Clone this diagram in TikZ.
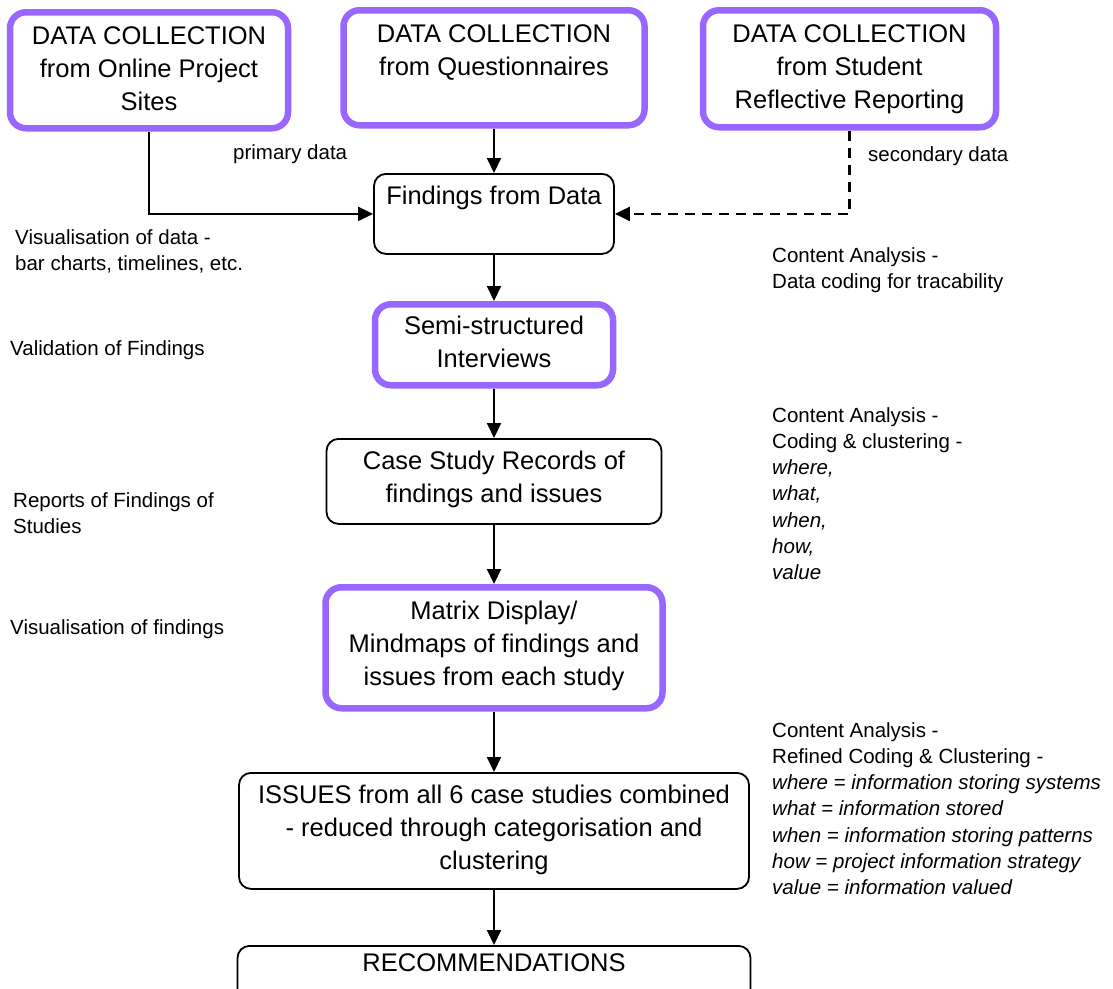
\documentclass[tikz,border=0pt]{standalone}
\usepackage{fontspec}
\setmainfont{Liberation Sans}
\usetikzlibrary{arrows.meta}
\definecolor{boxpurple}{RGB}{153,102,255}
\newcommand{\boxtext}[4]{\parbox[c][#2pt][t]{#1pt}{\centering\vspace*{#3pt}#4\par}}
\begin{document}
\begin{tikzpicture}[x=1pt,y=-1pt,
  box/.style={draw=black,line width=1.8pt,rounded corners=12pt,inner sep=0pt,fill=white,
    font=\fontsize{25.5}{33}\selectfont,anchor=north},
  pbox/.style={box,draw=boxpurple,line width=6.5pt,rounded corners=16pt},
  lbl/.style={inner sep=0pt,anchor=base west,align=left,font=\fontsize{20.5}{26.3}\selectfont},
  arr/.style={line width=2pt,-{Triangle[length=15pt,width=14pt]}}]
\clip (0,0) rectangle (1113,988);
\node[pbox] (B1) at (149,9) {\boxtext{278}{116}{14.5}{DATA COLLECTION\\from Online Project\\Sites}};
\node[pbox] (B2) at (494,7) {\boxtext{301}{115}{14.5}{DATA COLLECTION\\from Questionnaires}};
\node[pbox] (B3) at (849.5,7) {\boxtext{293}{117}{14.5}{DATA COLLECTION\\from Student\\Reflective Reporting}};
\node[box] (F) at (494,173) {\boxtext{240}{80}{12.5}{Findings from Data}};
\node[pbox] (S) at (494,301) {\boxtext{238}{81}{11.5}{Semi-structured\\Interviews}};
\node[box] (C) at (494,438) {\boxtext{335}{85}{12.5}{Case Study Records of\\findings and issues}};
\node[pbox] (M) at (494,584) {\boxtext{337}{121}{13.5}{Matrix Display/\\Mindmaps of findings and\\issues from each study}};
\node[box] (I) at (494,772) {\boxtext{510}{116}{12.5}{ISSUES from all 6 case studies combined\\- reduced through categorisation and\\clustering}};
\node[box] (R) at (494,945) {\boxtext{513}{90}{7.5}{RECOMMENDATIONS}};

\draw[arr] (B2) -- (F);
\draw[arr] (B1.south) |- (F.west);
\draw[arr,line width=2.2pt,dash pattern=on 10pt off 7pt] (B3.south) |- (F.east);
\draw[arr] (F) -- (S);
\draw[arr] (S) -- (C);
\draw[arr] (C) -- (M);
\draw[arr] (M) -- (I);
\draw[arr] (I) -- (R);

\node[lbl] (lp) at (233,159) {primary data};
\node[lbl] (ls) at (868,161) {secondary data};
\node[lbl] (lv) at (15,270.3) {Visualisation of data -\\bar charts, timelines, etc.};
\node[lbl] (lc1) at (772,288.3) {Content Analysis -\\Data coding for tracability};
\node[lbl] (lval) at (10,355) {Validation of Findings};
\node[lbl] (lc2) at (772,579.8) {Content Analysis -\\Coding \& clustering -\\\textit{where,}\\\textit{what,}\\\textit{when,}\\\textit{how,}\\\textit{value}};
\node[lbl] (lr) at (13,533.3) {Reports of Findings of\\Studies};
\node[lbl] (lvf) at (10,634) {Visualisation of findings};
\node[lbl] (lc3) at (772,894.8) {Content Analysis -\\Refined Coding \& Clustering -\\\textit{where = information storing systems}\\\textit{what = information stored}\\\textit{when = information storing patterns}\\\textit{how = project information strategy}\\\textit{value = information valued}};
\end{tikzpicture}
\end{document}
